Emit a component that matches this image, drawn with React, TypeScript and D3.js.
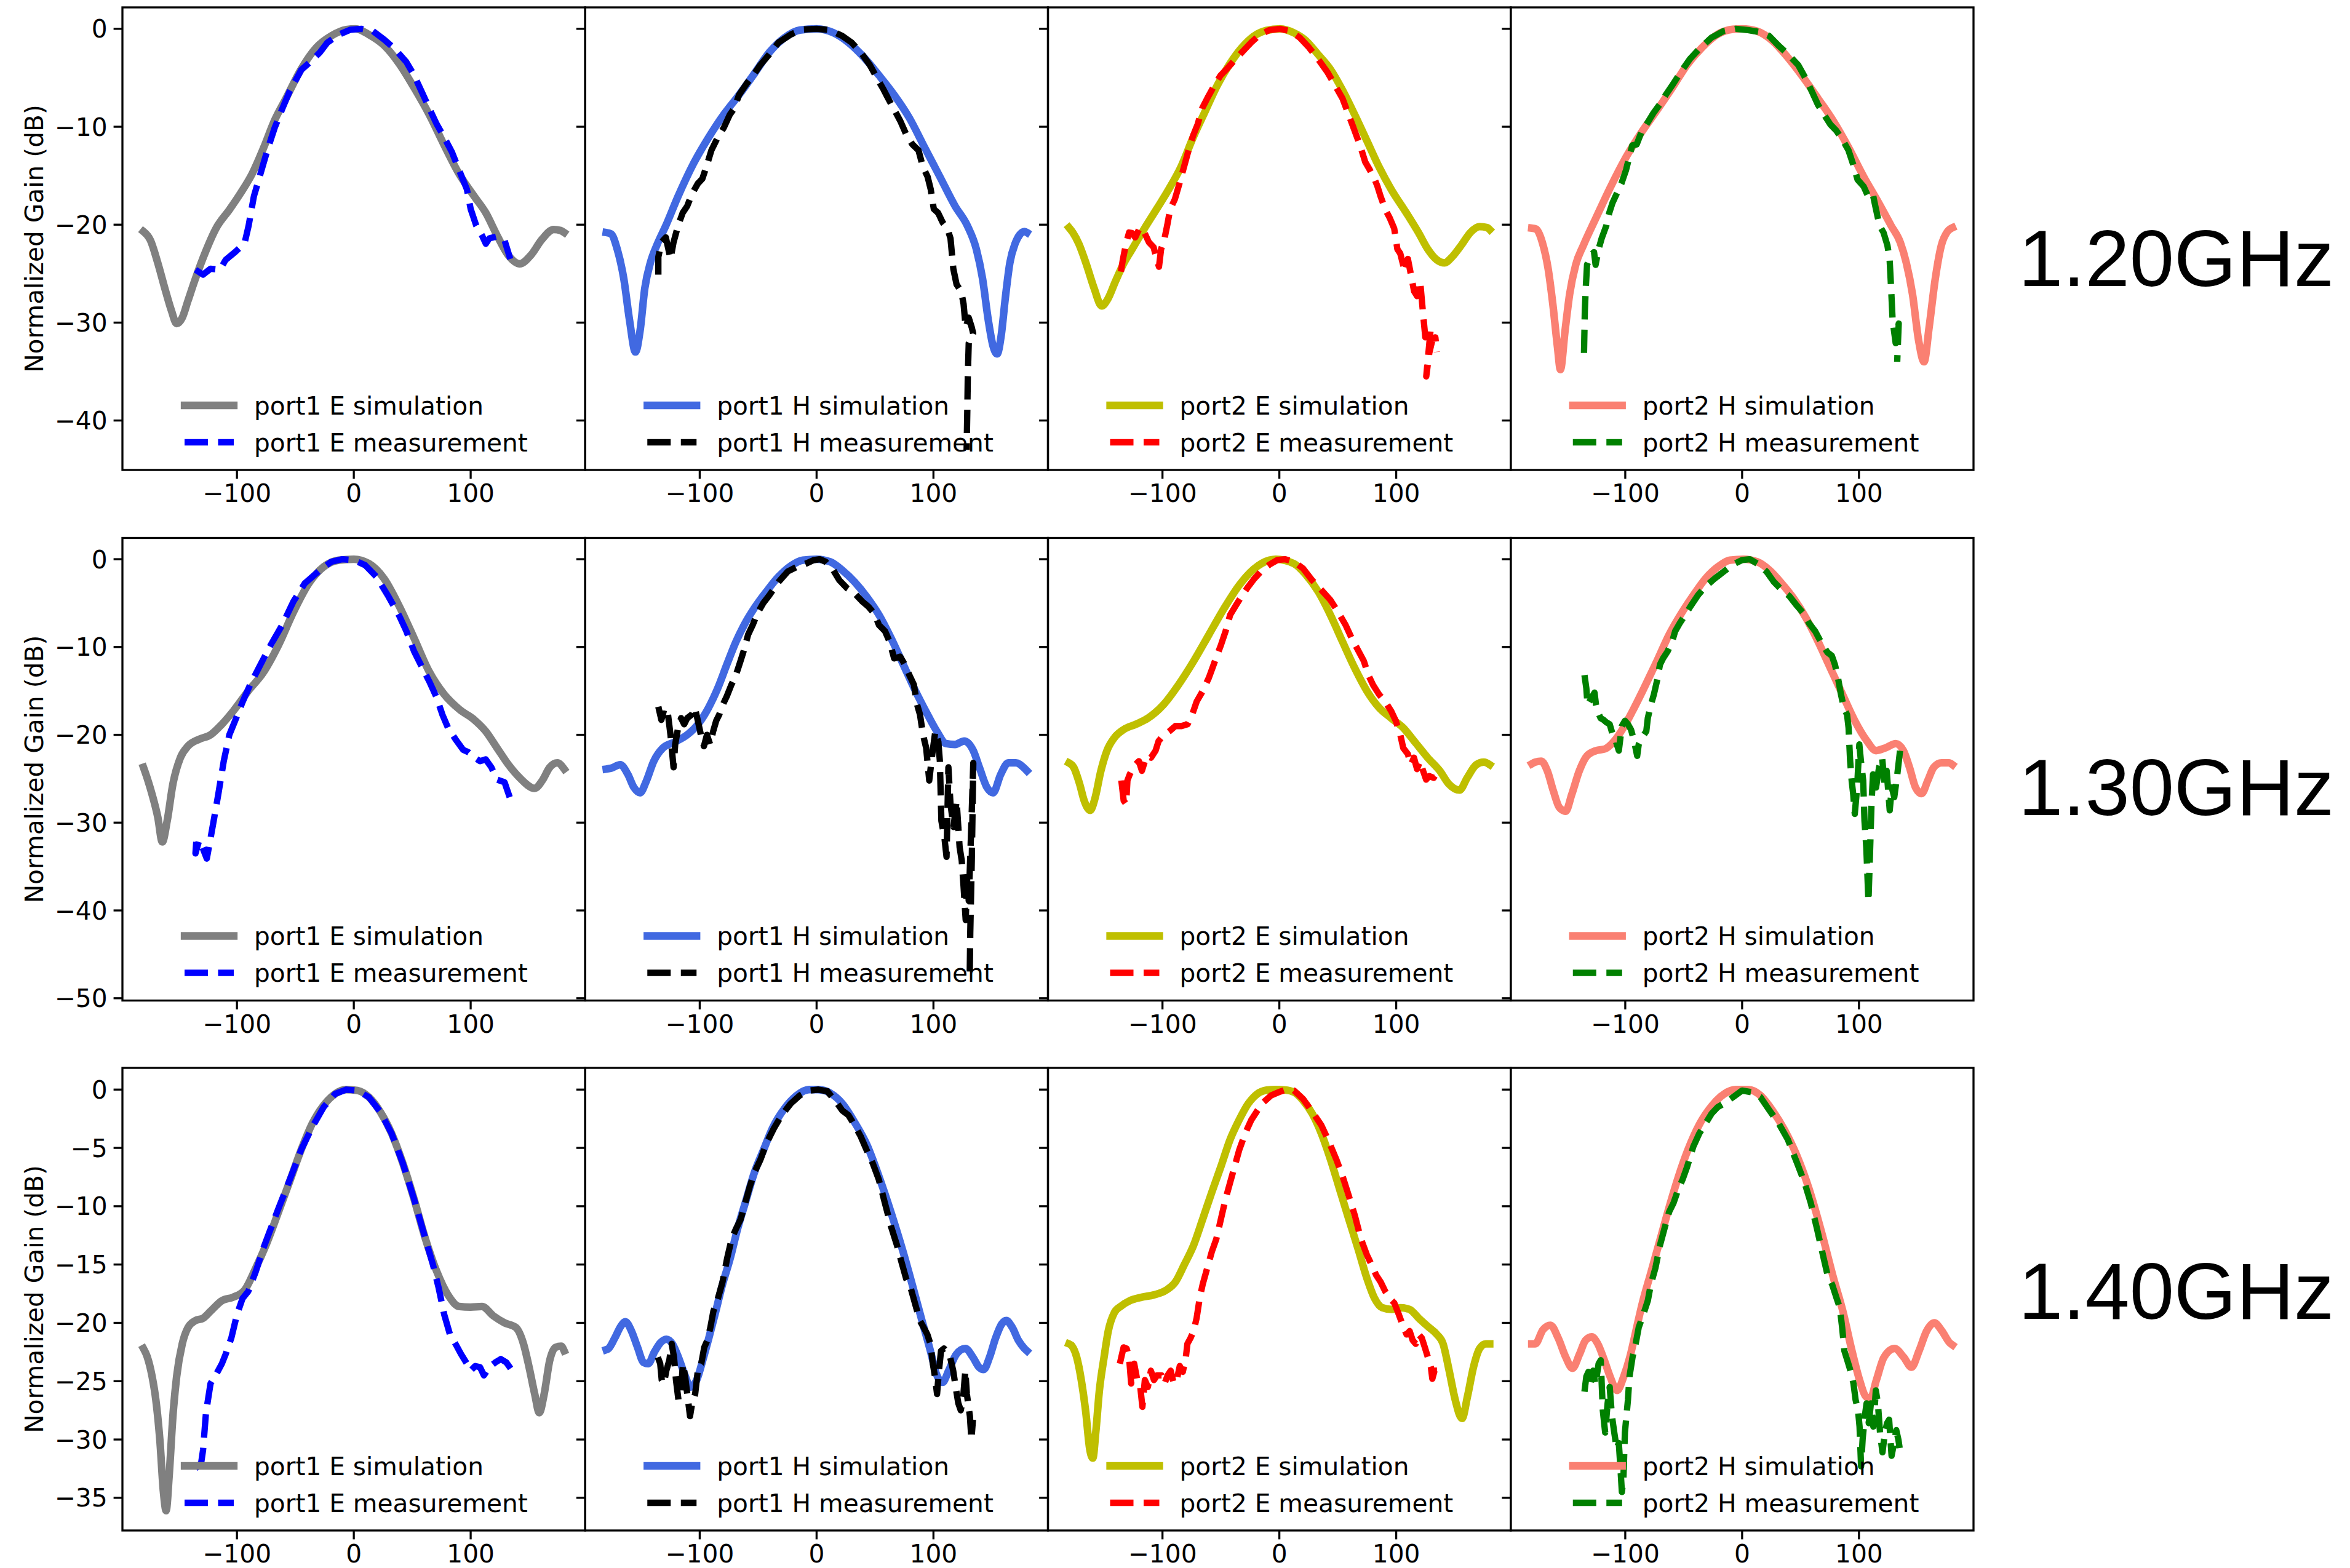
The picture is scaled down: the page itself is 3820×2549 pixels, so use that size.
import React from 'react';
import * as d3 from 'd3';

type Pt = [number, number];

// ---------------- data: 1.20 GHz ----------------
const sim_120_p1E: Pt[] = [[-180,-20.7],[-174,-21.6],[-168,-23.8],[-161,-26.8],[-156,-28.8],[-151.6,-30.1],[-146.8,-29.5],[-142,-27.8],[-135.5,-25.5],[-127,-22.8],[-118,-20.4],[-106,-18.4],[-97,-16.8],[-87,-14.8],[-77,-12.1],[-68,-9.4],[-58,-7.1],[-45,-4.1],[-32,-1.9],[-19,-0.7],[-6.5,-0.07],[1.6,0],[13,-0.6],[26,-1.7],[39,-3.6],[52,-6.1],[64.5,-8.75],[77,-11.8],[90,-14.8],[103,-17.1],[113,-18.8],[122.6,-21.1],[132,-23.1],[142,-24.0],[151.6,-23.1],[161,-21.5],[171,-20.5],[177,-20.6],[180,-20.8]];
const meas_120_p1E: Pt[] = [[-135.5,-24.6],[-129,-25.1],[-122.6,-24.5],[-114.5,-24.6],[-109.7,-23.6],[-101.6,-22.8],[-93.5,-21.9],[-90,-20.1],[-85.5,-17.1],[-80.6,-15.1],[-74,-12.4],[-67.7,-10.1],[-61,-8.1],[-55,-6.4],[-45,-4.2],[-35.5,-3.2],[-29,-2.4],[-22.6,-1.4],[-12.9,-0.6],[-3.2,-0.1],[6.5,0],[16,-0.2],[26,-1.1],[35.5,-2.1],[45,-3.4],[51.6,-4.75],[58,-6.4],[64.5,-8.1],[71,-9.75],[77.4,-11.1],[84,-12.6],[90,-14.4],[96.8,-16.4],[100,-18.4],[104.8,-20.1],[109.7,-21.1],[113,-21.95],[116,-21.4],[122.6,-21.2],[129,-21.6],[133.9,-23.5]];
const sim_120_p1H: Pt[] = [[-180,-20.8],[-175.8,-20.95],[-170.6,-22.5],[-165,-25.5],[-160,-29.8],[-155,-33.0],[-151,-30.8],[-147,-26.5],[-142,-23.8],[-136.7,-22.1],[-129,-20.1],[-118.5,-17.1],[-105.5,-13.8],[-92.4,-11.1],[-79.4,-8.75],[-66.4,-6.75],[-53.4,-4.6],[-40.4,-2.4],[-27.3,-0.9],[-14.3,-0.13],[0,0],[14.3,-0.4],[27.3,-1.4],[40.4,-2.9],[53.4,-4.75],[66.4,-6.75],[79.4,-9.1],[92.4,-12.1],[105.5,-15.1],[118.5,-18.1],[129,-20.1],[136.7,-22.5],[142,-25.5],[147,-29.8],[151,-32.4],[154.5,-33.2],[158,-31.3],[161.5,-27.5],[165.4,-23.9],[170,-21.9],[174,-21.0],[178,-20.7],[180,-20.8]];
const meas_120_p1H: Pt[] = [[-135.4,-25.1],[-135.4,-23.3],[-132.8,-21.8],[-129,-21.3],[-125,-23.5],[-122.4,-21.8],[-118.5,-20.1],[-114.6,-18.8],[-110.7,-18.1],[-106.8,-16.9],[-101.6,-15.8],[-97.7,-15.3],[-93.8,-13.9],[-90,-12.4],[-84.6,-11.1],[-79.4,-10.1],[-74.2,-8.75],[-70.3,-8.1],[-66.4,-6.75],[-59.9,-5.6],[-53.4,-4.6],[-48.2,-3.7],[-40.4,-2.6],[-32.6,-1.4],[-22,-0.57],[-11.7,-0.07],[0,0],[11.7,-0.13],[22,-0.73],[30,-1.4],[37.8,-2.4],[45.6,-3.7],[52,-5.1],[57.3,-6.2],[61.2,-7.1],[66.4,-8.25],[71.6,-9.4],[76.8,-10.8],[82,-11.8],[87.2,-12.4],[91,-14.1],[95,-15.1],[97.7,-16.4],[100.3,-18.4],[104,-18.8],[108,-19.8],[112,-20.4],[114.6,-21.4],[117,-24.5],[119.8,-26.1],[123.7,-26.8],[125.8,-28.1],[127.6,-30.5],[130.2,-29.5],[132.8,-30.5],[134,-31.1],[130.2,-32.1],[129.4,-35.5],[129,-38.8],[128.4,-43.0]];
const sim_120_p2E: Pt[] = [[-180,-20.3],[-176.8,-20.8],[-171.6,-21.95],[-165,-24.1],[-158.5,-26.5],[-152,-28.3],[-146.8,-27.6],[-140.3,-25.8],[-133.8,-24.1],[-126,-22.5],[-115.5,-20.4],[-105,-18.4],[-94.7,-16.4],[-84.2,-14.1],[-73.8,-11.1],[-63.4,-8.4],[-53,-5.75],[-42.5,-3.6],[-32,-1.9],[-21.6,-0.73],[-11.2,-0.17],[0.5,0],[12.3,-0.4],[22.7,-1.2],[33,-2.6],[43.5,-4.1],[54,-6.25],[64.4,-8.75],[74.8,-11.4],[85.3,-14.1],[95.7,-16.4],[108.7,-18.8],[119,-20.8],[127,-22.5],[134.8,-23.6],[141.3,-23.9],[147.8,-23.3],[155.7,-22.1],[163.5,-20.8],[171.3,-20.2],[177.8,-20.3],[180,-20.5]];
const meas_120_p2E: Pt[] = [[-135.6,-24.8],[-133.8,-23.5],[-131.2,-21.95],[-128.6,-20.8],[-126,-20.85],[-123.3,-21.3],[-119.4,-20.3],[-115.5,-20.8],[-111.6,-21.8],[-107.6,-22.3],[-105,-23.5],[-103,-24.3],[-101.2,-22.5],[-98.6,-21.6],[-96,-20.1],[-93.4,-18.4],[-89.4,-17.4],[-85.5,-15.8],[-81.6,-14.1],[-77.7,-12.4],[-73.8,-10.9],[-69.9,-9.75],[-66,-8.1],[-60.8,-6.9],[-55.5,-5.75],[-50.3,-4.75],[-45,-4.1],[-38.6,-3.24],[-32,-2.4],[-24.2,-1.4],[-16.4,-0.57],[-8.6,-0.13],[0.5,0],[9.6,-0.23],[17.5,-0.9],[25.3,-1.9],[33,-3.07],[41,-4.4],[47.5,-5.75],[54,-7.1],[59.2,-8.75],[64.4,-10.4],[69.6,-12.1],[73.5,-13.6],[77.4,-14.4],[81.3,-15.3],[84,-16.1],[86.6,-17.1],[90.5,-18.4],[94.4,-19.3],[98.3,-20.4],[101,-22.5],[103.5,-22.95],[107.4,-24.8],[110,-23.5],[112.6,-25.1],[115.3,-26.8],[117.9,-27.3],[120.5,-25.8],[123,-29.1],[124.9,-31.5],[127,-30.8],[129.6,-30.5],[125.7,-35.5],[128.3,-33.1],[130.9,-31.8],[133.5,-31.5],[134.8,-33.0]];
const sim_120_p2H: Pt[] = [[-180,-20.35],[-176.3,-20.45],[-171,-21.8],[-166,-24.5],[-162,-28.1],[-158,-32.5],[-155.5,-34.8],[-151.5,-30.8],[-147.6,-27.1],[-142.4,-24.1],[-135.8,-22.1],[-125.4,-19.4],[-112.4,-16.1],[-99.3,-13.1],[-86.3,-10.6],[-73.3,-8.4],[-60.2,-6.1],[-47.2,-3.7],[-34.2,-1.9],[-21.1,-0.57],[-8.1,-0.05],[0,0],[12.8,-0.23],[25.8,-1.2],[38.9,-2.9],[51.9,-4.9],[64.9,-7.1],[78,-9.4],[91,-12.1],[104,-15.1],[117,-17.8],[127.5,-20.1],[135.3,-21.8],[140.5,-23.9],[145.8,-27.1],[151,-31.8],[155.7,-34.0],[160,-30.5],[165.3,-25.5],[170.5,-22.1],[175.7,-20.7],[180,-20.3]];
const meas_120_p2H: Pt[] = [[-135.3,-33.1],[-134.6,-28.8],[-133.8,-26.5],[-132.7,-24.1],[-129.3,-23.1],[-126.7,-22.8],[-125.4,-24.1],[-122.8,-22.5],[-120.2,-21.4],[-116.2,-20.1],[-113.7,-18.8],[-111,-17.8],[-107.2,-16.8],[-103.3,-15.8],[-99.3,-14.4],[-96.6,-13.1],[-94,-11.9],[-90.2,-11.8],[-86.3,-10.6],[-81,-9.6],[-75.9,-8.6],[-70.7,-7.75],[-65.4,-6.75],[-58.9,-5.6],[-52.4,-4.4],[-44.6,-3.07],[-36.8,-2.07],[-26.3,-0.9],[-15.9,-0.23],[-5.5,0],[5,-0.13],[15.4,-0.33],[23.2,-0.73],[31,-1.7],[40.2,-2.7],[48,-3.7],[54.5,-5.1],[59.7,-6.4],[64.9,-7.75],[70.1,-8.75],[75.4,-9.75],[80.6,-10.4],[85.8,-11.3],[91,-12.4],[94.9,-13.8],[98.8,-15.4],[104,-16.1],[107.8,-17.1],[111.7,-16.8],[114.5,-18.4],[117.6,-20.1],[121,-20.8],[124.3,-22.1],[126.2,-23.5],[127.5,-26.5],[128.8,-29.8],[131.4,-32.1],[134,-30.1],[132.7,-34.0]];

// ---------------- data: 1.30 GHz ----------------
const sim_130_p1E: Pt[] = [[-180,-23.7],[-177.4,-24.7],[-172.6,-26.8],[-167.7,-29.4],[-163.9,-32.2],[-159.7,-29.8],[-154.8,-25.6],[-148.4,-22.6],[-142,-21.3],[-132.3,-20.5],[-122.6,-20],[-112.9,-18.8],[-103.2,-17.3],[-90.3,-15.0],[-77.4,-12.9],[-64.5,-9.8],[-51.6,-6.0],[-38.7,-2.8],[-25.8,-0.87],[-12.9,-0.11],[0,0],[12.9,-0.5],[25.8,-2.2],[38.7,-5.3],[51.6,-9.0],[64.5,-12.8],[77.4,-15.4],[90.3,-17.1],[103.2,-18.3],[112.9,-19.6],[122.6,-21.5],[132.3,-23.4],[142,-24.9],[154.8,-26.1],[161.3,-25.2],[167.7,-23.7],[174.2,-23.2],[180,-23.9]];
const meas_130_p1E: Pt[] = [[-134.8,-32.2],[-135.5,-33.5],[-132.3,-32.0],[-129,-33.0],[-125.8,-34.1],[-122.6,-31.8],[-119.4,-29.4],[-116,-26.8],[-111.3,-23],[-106.5,-20],[-101.6,-18.4],[-95,-16.2],[-88.7,-14.3],[-80.6,-12.2],[-71,-9.75],[-61.3,-7.5],[-51.6,-4.8],[-42,-2.76],[-29,-1.25],[-19.4,-0.3],[-9.7,0],[0,-0.1],[9.7,-0.68],[19.4,-2.0],[29,-4.1],[38.7,-6.4],[45,-8.2],[51.6,-10.5],[58,-12.2],[64.5,-13.9],[71,-15.8],[75.8,-17.7],[80.6,-19.2],[87,-20.5],[93.5,-21.7],[98.4,-22.0],[103.2,-22.6],[108,-23],[112.9,-22.8],[117.7,-23.7],[122.6,-25.1],[129,-25.4],[133.9,-27.3]];
const sim_130_p1H: Pt[] = [[-180,-23.9],[-175.8,-23.8],[-168,-23.4],[-161.5,-24.5],[-156.3,-26.0],[-151,-26.6],[-145.8,-25.3],[-139.3,-23.0],[-131.5,-21.5],[-121,-20.8],[-110.7,-20],[-100.3,-18.6],[-92.4,-16.9],[-84.6,-14.7],[-76.8,-12.0],[-69,-9.4],[-61.2,-7.3],[-53.4,-5.6],[-43,-3.7],[-32.6,-2.0],[-22,-0.76],[-11.7,-0.11],[0,0],[11.7,-0.3],[22,-1.25],[32.6,-2.6],[43,-4.3],[53.4,-6.35],[63.8,-9.0],[74.2,-12.0],[84.6,-15.0],[95,-17.7],[102.9,-19.6],[110.7,-21.0],[118.5,-21.1],[126.3,-20.7],[134.1,-21.8],[139.3,-23.7],[145.8,-26.0],[151,-26.6],[157.6,-24.5],[164,-23.2],[170.6,-23.2],[177,-23.7],[180,-24.1]];
const meas_130_p1H: Pt[] = [[-135.4,-16.8],[-132.8,-18.3],[-130.2,-17],[-127.6,-17.2],[-125,-20.0],[-122.4,-23.7],[-121,-21.1],[-118.5,-19.2],[-115.9,-18.1],[-113.3,-18.8],[-110.7,-18.1],[-106.8,-17.7],[-104.2,-16.9],[-101.6,-18.4],[-99,-20.0],[-96.4,-21.3],[-93.8,-20.0],[-91.1,-21.1],[-88.5,-19.6],[-85.9,-18.4],[-83.3,-17.7],[-80.7,-16.7],[-76.8,-15.6],[-72.9,-14.3],[-69,-13.2],[-65.1,-11.6],[-62.5,-10.5],[-58.6,-8.6],[-54.7,-7.5],[-50.8,-6.2],[-45.6,-5.0],[-40.4,-4.1],[-32.6,-2.6],[-24.7,-1.4],[-16.9,-0.87],[-9.1,-0.5],[-2.6,-0.11],[2.6,0],[7.8,-0.3],[14.3,-1.25],[19.5,-2.4],[26,-3.3],[32.6,-3.9],[39,-4.8],[44.3,-5.4],[49.5,-6.2],[53.4,-7.5],[58.6,-8.2],[62.5,-9.4],[66.4,-11.3],[71.6,-11.1],[75.5,-12.0],[79.4,-13.2],[83.3,-14.3],[85.9,-16.5],[88.5,-17.7],[91.1,-20.0],[93.8,-21.5],[96.4,-25.2],[99,-22.2],[101.6,-19.6],[104.2,-20.8],[105.5,-23.0],[106.8,-29.8],[109.4,-31.7],[111.2,-33.9],[112.8,-23.7],[114.6,-27.9],[117.2,-30.5],[119.8,-27.5],[122.4,-32.8],[124.2,-34.3],[125.8,-37.3],[127.6,-41.1],[128.9,-36.2],[130.2,-38.9],[131.5,-33.9],[132.8,-28.7],[134.1,-23.2],[132.8,-34.3],[131.5,-42.6],[131,-47.9]];
const sim_130_p2E: Pt[] = [[-180,-23.2],[-176,-23.7],[-170.9,-25.6],[-167,-27.5],[-161.8,-28.6],[-157.9,-27.3],[-152.7,-24.1],[-147.5,-21.8],[-141,-20.3],[-133.2,-19.4],[-122.8,-18.8],[-112.4,-18.1],[-99.4,-16.6],[-86.3,-14.3],[-73.3,-11.6],[-60.3,-8.6],[-47.3,-5.6],[-34.3,-2.95],[-21.3,-1.06],[-8.3,-0.1],[-3,0],[12.5,-0.5],[22.9,-1.8],[33.3,-3.7],[43.7,-6.35],[54.1,-9.4],[64.5,-12.4],[74.9,-15.0],[85.3,-16.9],[95.7,-18.1],[106,-19.2],[116.5,-20.9],[126.9,-22.6],[137.3,-24.1],[145,-25.6],[154.2,-26.3],[160.7,-24.9],[168.5,-23.4],[175,-23.1],[180,-23.4]];
const meas_130_p2E: Pt[] = [[-135.2,-25.2],[-133.2,-27.5],[-131.1,-27.9],[-130,-25.2],[-128,-24.5],[-124.1,-23.5],[-120.2,-23.0],[-117.6,-24.1],[-113.7,-22.4],[-109.8,-22.6],[-105.9,-21.8],[-103.3,-20.7],[-99.4,-20.1],[-94.2,-19.6],[-89,-19.0],[-83.7,-19.0],[-78.5,-18.8],[-74.6,-17.7],[-70.7,-16.2],[-65.5,-15.0],[-60.3,-13.5],[-55.1,-11.6],[-49.9,-9.75],[-46,-8.2],[-42.1,-6.35],[-36.9,-5.2],[-31.7,-4.1],[-26.5,-3.1],[-21.3,-2.2],[-14.8,-1.25],[-8.3,-0.6],[-1.8,-0.1],[4.7,0],[12.5,-0.3],[20.3,-1.06],[28.1,-2.4],[35.9,-3.5],[43.7,-4.65],[50.2,-6.0],[56.7,-7.5],[61.9,-9.0],[67.1,-10.3],[72.3,-11.6],[76.2,-13.2],[80.1,-14.3],[85.3,-15.4],[90.5,-16.2],[95.7,-17.3],[99.6,-18.4],[103.5,-20.0],[106,-21.5],[110,-22.2],[112.6,-23.4],[115.2,-22.6],[117.8,-23.9],[120.4,-23.0],[123,-24.1],[125.6,-25.1],[128.2,-24.7],[132.1,-24.9],[134.7,-24.3]];
const sim_130_p2H: Pt[] = [[-180,-23.3],[-177,-23.1],[-171.9,-23.0],[-166.7,-24.1],[-161.5,-26.4],[-156.3,-28.3],[-151,-28.7],[-145.8,-26.8],[-139.3,-24.1],[-132.8,-22.4],[-125,-21.8],[-117.2,-21.6],[-109.4,-20.7],[-101.6,-19.2],[-93.8,-17.3],[-83.3,-14.5],[-72.9,-11.6],[-62.5,-8.6],[-52.1,-6.2],[-41.7,-4.1],[-31.3,-2.2],[-20.8,-0.87],[-10.4,-0.11],[1.3,0],[13,-0.3],[23.4,-1.25],[33.9,-2.76],[44.3,-4.5],[54.7,-6.7],[65.1,-9.4],[75.5,-12.4],[85.9,-15.4],[96.4,-18.4],[106.8,-20.7],[114.6,-21.8],[122.4,-21.5],[131.5,-21.0],[138,-21.8],[143.2,-23.7],[148.4,-26.0],[153.6,-26.7],[158.9,-25.2],[164,-23.7],[170.6,-23.2],[177,-23.2],[180,-23.4]];
const meas_130_p2H: Pt[] = [[-134.9,-13.2],[-133.3,-14.7],[-132.3,-16.6],[-128.9,-15.8],[-126.3,-15.2],[-125,-16.6],[-123.7,-17.3],[-121.1,-18.1],[-118.5,-18.3],[-115.9,-18.6],[-113.3,-18.8],[-110.7,-20.0],[-108.1,-20.7],[-105.5,-21.8],[-102.9,-19.0],[-100.3,-18.4],[-97.7,-18.8],[-95.1,-19.4],[-92.4,-20.7],[-89.8,-22.4],[-88.5,-21.1],[-84.6,-20.1],[-82,-19.6],[-80.7,-18.1],[-78.1,-16.6],[-75.5,-15.4],[-72.9,-13.9],[-70.3,-12.0],[-67.7,-11.3],[-63.8,-10.5],[-59.9,-9.4],[-57.3,-8.2],[-53.4,-7.3],[-49.5,-6.5],[-44.3,-5.4],[-37.8,-4.1],[-31.3,-3.1],[-23.4,-2.2],[-15.6,-1.4],[-7.8,-0.6],[0,-0.1],[6.5,0],[13,-0.5],[20.8,-1.4],[27.3,-2.6],[33.9,-3.5],[40.4,-4.2],[46.9,-5.3],[52.1,-6.1],[57.3,-7.3],[62.5,-8.2],[67.7,-9.5],[72.9,-10.6],[76.8,-11.0],[79.4,-12.0],[82,-13.5],[84.6,-15.4],[87.2,-17.0],[89.8,-17.7],[91.1,-19.2],[92.4,-22.9],[93.8,-25.3],[95.1,-26.8],[96.4,-29.0],[98.4,-26.0],[100.3,-21.1],[101.6,-22.9],[103.6,-25.2],[104.7,-29.8],[106.3,-32.9],[108.1,-39.0],[109.4,-33.6],[110.7,-27.9],[112,-24.5],[114.6,-26.0],[117.2,-23.7],[119.8,-22.6],[121.9,-25.6],[123.7,-24.1],[126.3,-28.6],[128.1,-26.0],[130.2,-27.1],[132.8,-24.5],[135.4,-21.5]];

// ---------------- data: 1.40 GHz ----------------
const sim_140_p1E: Pt[] = [[-180,-22.2],[-176.8,-22.9],[-172.6,-24.6],[-169.4,-26.6],[-166,-30.0],[-162.9,-34.5],[-160.6,-36.1],[-158,-33.1],[-154.8,-28.0],[-151.6,-24.6],[-146.8,-21.8],[-141.9,-20.4],[-135.5,-19.8],[-129,-19.6],[-122.6,-19.0],[-112.9,-18.1],[-103.2,-17.8],[-93.5,-17.2],[-83.9,-15.3],[-74.2,-13.1],[-64.5,-10.5],[-54.8,-7.85],[-45.2,-5.2],[-35.5,-2.9],[-25.8,-1.35],[-16,-0.37],[-6.5,0],[3.2,-0.08],[12.9,-0.65],[22.6,-1.9],[32.3,-3.75],[41.9,-6.3],[51.6,-9.4],[61.3,-12.8],[71,-15.6],[80.6,-17.6],[90.3,-18.6],[100,-18.65],[109.7,-18.6],[119.4,-19.4],[129,-20.0],[138.7,-20.4],[145.2,-21.8],[150,-23.8],[154.8,-26.1],[158.7,-27.7],[162.9,-26.1],[167.7,-23.2],[172.6,-22.1],[177.4,-22.0],[180,-22.4]];
const meas_140_p1E: Pt[] = [[-135.5,-32.5],[-130.6,-32.0],[-129,-30.9],[-126.5,-27.7],[-122.6,-25.2],[-117.7,-24.4],[-112.9,-23.5],[-109.7,-22.7],[-104.8,-21.3],[-100,-19.3],[-95.2,-17.9],[-90.3,-17.3],[-83.9,-15.6],[-77.4,-13.6],[-71,-11.9],[-64.5,-10.2],[-58,-8.55],[-51.6,-6.9],[-45.2,-5.2],[-35.5,-3.2],[-25.8,-1.5],[-16,-0.37],[-6.5,0],[3.2,-0.08],[12.9,-0.65],[22.6,-1.9],[32.3,-3.75],[41.9,-6.3],[51.6,-9.4],[61.3,-12.8],[67.7,-15.0],[72.6,-17.0],[77.4,-19.3],[82.3,-21.0],[87,-21.8],[91.9,-22.7],[96.8,-23.5],[100,-24.1],[103.9,-23.7],[108,-23.8],[111.3,-24.5],[116,-23.8],[121,-23.4],[125.8,-23.1],[130.6,-23.4],[135.5,-24.1]];
const sim_140_p1H: Pt[] = [[-180,-22.3],[-178,-22.2],[-172.7,-21.3],[-167.6,-20.3],[-163.6,-19.9],[-158.4,-20.7],[-153.2,-22.1],[-148,-23.4],[-144,-23.5],[-138.8,-22.5],[-133.6,-21.7],[-128.5,-21.4],[-123.4,-21.8],[-118.2,-22.95],[-113,-24.4],[-107.8,-25.5],[-102.6,-24.9],[-97.4,-23.2],[-92.2,-21.3],[-87,-19.3],[-80.5,-16.7],[-74,-14.5],[-67.5,-11.9],[-61,-9.7],[-53.2,-7.1],[-45.5,-5.2],[-37.7,-3.3],[-27.3,-1.6],[-16.9,-0.5],[-6.5,0],[1.3,0],[11.7,-0.3],[22,-1.2],[32.5,-2.8],[42.9,-4.7],[53.2,-7.4],[63.6,-10.5],[74,-13.9],[81.8,-16.7],[89.6,-19.6],[97.4,-22.4],[102.6,-24.4],[107.8,-25.1],[113,-24.1],[119.5,-22.7],[127.3,-22.2],[133.8,-22.95],[139,-23.8],[143,-24.0],[148,-22.95],[153.2,-21.3],[158.4,-20.1],[162.3,-19.8],[167.5,-20.4],[172.7,-21.5],[177.9,-22.2],[180,-22.4]];
const meas_140_p1H: Pt[] = [[-135.8,-22.95],[-133.8,-23.5],[-132.5,-24.9],[-130.6,-25.2],[-128.6,-24.1],[-126,-23.2],[-124,-21.8],[-122,-22.95],[-120.3,-24.9],[-118.2,-26.6],[-116.1,-25.8],[-114.3,-23.5],[-112.5,-24.6],[-110.4,-26.3],[-108.3,-28.0],[-106.5,-26.9],[-103.9,-26.1],[-101.3,-23.8],[-98.7,-23.5],[-96.1,-22.1],[-93.5,-21.5],[-90.9,-20.4],[-88.3,-19.0],[-84.4,-17.9],[-80.5,-16.5],[-76.6,-14.5],[-72.7,-12.8],[-68.8,-11.9],[-64.9,-11.1],[-61,-9.7],[-57.1,-8.3],[-53.2,-7.1],[-48,-6.0],[-42.9,-4.6],[-36.4,-3.3],[-29.9,-2.2],[-22.1,-1.2],[-14.3,-0.5],[-6.5,-0.08],[1.3,0],[9.1,-0.14],[16.9,-1.07],[22,-1.8],[27.3,-2.2],[32.5,-3.05],[37.7,-4.0],[42.9,-5.2],[48,-6.3],[53.2,-7.7],[58.4,-9.7],[63.6,-11.7],[68.8,-13.35],[72.7,-14.8],[76.6,-16.2],[80.5,-17.0],[84.4,-18.4],[88.3,-19.8],[92.2,-20.5],[94.8,-21.0],[97.4,-21.8],[99.5,-23.5],[101.3,-24.6],[103.1,-26.1],[104.7,-24.1],[106.5,-22.4],[109,-22.2],[111.7,-22.5],[114.3,-22.95],[116.9,-24.1],[119.5,-25.8],[121.3,-26.9],[123.4,-27.5],[125.5,-26.3],[127.3,-24.1],[128.6,-26.1],[131.2,-28.0],[132.5,-30.0],[133.8,-28.3]];
const sim_140_p2E: Pt[] = [[-180,-21.8],[-177.3,-22.0],[-173.4,-22.95],[-169.5,-24.9],[-165.6,-27.7],[-162.3,-30.8],[-159.6,-31.6],[-157.1,-29.4],[-154,-25.8],[-150,-22.95],[-146.4,-20.7],[-141.1,-19.1],[-136,-18.6],[-128,-18.1],[-117.7,-17.8],[-107.3,-17.6],[-96.9,-17.2],[-89,-16.5],[-81.3,-15.0],[-73.4,-13.35],[-65.6,-11.1],[-57.8,-8.8],[-50,-6.6],[-42.2,-4.3],[-34.4,-2.6],[-26.6,-1.2],[-18.8,-0.37],[-10.9,-0.05],[-3.1,0],[4.7,-0.03],[12.5,-0.22],[20.3,-0.93],[28.1,-2.06],[35.9,-3.75],[43.8,-6.0],[51.6,-8.55],[59.4,-11.1],[67.2,-13.6],[75,-16.2],[81.5,-17.9],[88,-18.7],[95.8,-18.85],[103.6,-18.7],[111.5,-18.85],[119.3,-19.6],[127,-20.3],[134.9,-21.0],[140.1,-21.8],[145.3,-24.1],[150.5,-26.6],[156.3,-28.2],[161,-26.3],[166.1,-23.8],[171.4,-22.2],[176.6,-21.8],[180,-21.8]];
const meas_140_p2E: Pt[] = [[-136.5,-23.5],[-133.3,-22.1],[-130.7,-22.2],[-128.6,-22.95],[-126.8,-25.2],[-124.2,-23.5],[-121.6,-24.9],[-119,-25.5],[-117.2,-27.2],[-115.1,-24.9],[-112.5,-25.5],[-109.9,-24.1],[-107.3,-24.9],[-104.7,-24.5],[-100.8,-24.5],[-98.2,-25.2],[-95.6,-24.5],[-93,-24.1],[-90.4,-25.2],[-87.8,-24.9],[-85.2,-23.7],[-82.6,-24.2],[-80,-22.95],[-78.7,-21.8],[-76,-21.3],[-73.4,-20.7],[-70.8,-19.6],[-68.2,-17.9],[-65.6,-16.7],[-61.7,-15.3],[-57.8,-13.9],[-53.9,-12.8],[-50,-11.1],[-46.1,-9.4],[-42.2,-8.0],[-38.3,-6.6],[-34.4,-5.2],[-29.2,-3.75],[-24,-2.6],[-18.8,-1.8],[-13.5,-1.07],[-7,-0.5],[-0.5,-0.22],[6,0],[12.5,-0.08],[20.3,-0.8],[28.1,-1.9],[35.9,-3.05],[42.4,-4.46],[48.8,-6.0],[54,-7.4],[59.4,-9.1],[64.6,-10.8],[69.8,-12.8],[75,-14.2],[78.9,-15.0],[82.8,-15.9],[86.7,-16.5],[90.6,-17.3],[94.5,-17.9],[98.4,-18.3],[102.3,-19.3],[106.3,-20.4],[108.9,-21.0],[111.5,-20.7],[114.1,-21.5],[116.7,-21.8],[119.3,-21.0],[121.9,-21.3],[124.5,-22.1],[127.1,-22.95],[129.7,-23.8],[130.9,-24.8],[132.8,-24.1],[134.9,-24.1]];
const sim_140_p2H: Pt[] = [[-180,-21.8],[-177,-21.8],[-170.5,-20.6],[-164,-20.2],[-157.4,-21.3],[-150.9,-22.95],[-145.2,-23.9],[-139.2,-22.7],[-134,-21.5],[-128.7,-21.2],[-123.5,-21.8],[-118.3,-23.1],[-113,-24.6],[-107,-25.8],[-101.3,-24.6],[-96.1,-22.95],[-90.9,-20.7],[-85.6,-18.4],[-77.8,-15.6],[-70,-12.8],[-62.2,-10.0],[-54.3,-7.4],[-46.5,-5.2],[-36.1,-2.9],[-25.6,-1.35],[-15.3,-0.37],[-5.2,0],[5.2,0],[15.6,-0.5],[26.1,-1.8],[36.5,-3.5],[47,-5.7],[57.4,-8.55],[67.9,-12.2],[78.3,-16.2],[86.2,-19.0],[94,-22.4],[100.5,-24.9],[105.7,-26.3],[109.7,-26.5],[114.9,-24.9],[121.4,-22.95],[130.5,-22.2],[138.3,-22.95],[144.9,-23.8],[151.4,-22.4],[157.9,-20.7],[164.5,-20.0],[171,-20.7],[177.5,-21.7],[180,-21.9]];
const meas_140_p2H: Pt[] = [[-134.9,-25.9],[-133.3,-24.6],[-131.5,-24.2],[-129.6,-25.2],[-127.5,-24.1],[-125.5,-25.3],[-122.8,-23.5],[-121,-23.2],[-119.2,-27.5],[-117.2,-29.4],[-115.1,-26.9],[-113.3,-25.5],[-111.4,-28.0],[-109.4,-29.4],[-107.3,-30.8],[-105.5,-30.3],[-104.2,-32.3],[-102.9,-34.5],[-101.6,-33.4],[-100.3,-29.4],[-99,-28.0],[-97.7,-26.6],[-96.4,-24.6],[-95.1,-23.8],[-93.8,-22.95],[-91.1,-21.8],[-88.5,-20.4],[-84.6,-19.3],[-80.7,-18.1],[-78.1,-16.7],[-74.2,-15.3],[-70.3,-13.35],[-66.4,-11.9],[-62.5,-10.5],[-58.6,-9.7],[-54.7,-8.55],[-50.9,-7.7],[-47,-6.6],[-41.8,-4.9],[-36.6,-3.75],[-31.3,-2.9],[-26.1,-2.06],[-20.9,-1.5],[-15.7,-1.2],[-7.8,-0.65],[0,-0.08],[7.8,-0.22],[15.7,-0.65],[23.5,-1.8],[31.3,-2.9],[39.2,-4.3],[47,-6.3],[53.5,-8.0],[58.7,-9.7],[64,-11.9],[69.2,-14.2],[73.1,-15.9],[77,-16.7],[80.9,-17.9],[83.6,-18.7],[85.6,-20.4],[87.5,-22.4],[90,-23.2],[92.7,-24.1],[95.3,-25.2],[97.1,-26.6],[99.2,-27.5],[100.5,-28.9],[101.8,-32.3],[103.1,-30.0],[105,-28.0],[106.5,-26.9],[108.4,-28.6],[110.2,-26.9],[112.3,-28.9],[114.4,-25.8],[116.2,-26.9],[118,-29.4],[120.1,-31.1],[122.2,-29.4],[124,-28.6],[125.8,-28.3],[127.9,-31.4],[130,-30.3],[131.9,-29.2],[133.7,-30.0],[135.8,-31.4]];

// ---------------- labels, ticks, styles ----------------
const FREQ_LABELS = ['1.20GHz', '1.30GHz', '1.40GHz'];
const SIM_LABELS = ['port1 E simulation', 'port1 H simulation', 'port2 E simulation', 'port2 H simulation'];
const MEAS_LABELS = ['port1 E measurement', 'port1 H measurement', 'port2 E measurement', 'port2 H measurement'];
const X_TICKS = [-100, 0, 100];
const Y_TICKS = [
  [0, -10, -20, -30, -40],
  [0, -10, -20, -30, -40, -50],
  [0, -5, -10, -15, -20, -25, -30, -35],
];
const SIM_COLORS = ['#808080', '#4169e1', '#bfbf00', '#fa8072'];
const MEAS_COLORS = ['#0000ff', '#000000', '#ff0000', '#008000'];

const SIM_DATA: Pt[][][] = [
  [sim_120_p1E, sim_120_p1H, sim_120_p2E, sim_120_p2H],
  [sim_130_p1E, sim_130_p1H, sim_130_p2E, sim_130_p2H],
  [sim_140_p1E, sim_140_p1H, sim_140_p2E, sim_140_p2H],
];
const MEAS_DATA: Pt[][][] = [
  [meas_120_p1E, meas_120_p1H, meas_120_p2E, meas_120_p2H],
  [meas_130_p1E, meas_130_p1H, meas_130_p2E, meas_130_p2H],
  [meas_140_p1E, meas_140_p1H, meas_140_p2E, meas_140_p2H],
];

const X_DOMAIN: [number, number] = [-198, 198];
const Y_DOMAINS: [number, number][] = [[-45.05, 2.19], [-50.26, 2.42], [-37.8, 1.86]];

const W = 3820, H = 2549;
const LEFT = 199, PW = 752.25, PH = 752;
const TOPS = [12, 874.5, 1736];
const FS = 40.7;
const LW_SIM = 12.3, LW_MEAS = 10.3;
const DASH = '38 16.5';
const SPINE = 3.3, TICK_LEN = 14.4, TICK_W = 3.3;
const FONT = 'DejaVu Sans, sans-serif';

const fmt = (v: number) => (v < 0 ? '\u2212' + Math.abs(v) : String(v));

function Panel({ r, c }: { r: number; c: number }) {
  const x0 = LEFT + c * PW;
  const y0 = TOPS[r];
  const x = d3.scaleLinear().domain(X_DOMAIN).range([x0, x0 + PW]);
  const y = d3.scaleLinear().domain(Y_DOMAINS[r]).range([y0 + PH, y0]);
  const simGen = d3.line<Pt>().x(d => x(d[0])).y(d => y(d[1])).curve(d3.curveMonotoneX);
  const measGen = d3.line<Pt>().x(d => x(d[0])).y(d => y(d[1]));
  const clipId = `clip-${r}-${c}`;
  const legY = [y0 + PH - 105, y0 + PH - 45];
  const hx1 = x0 + 101, hx2 = x0 + 181, tx = x0 + 214;
  return (
    <g>
      <defs>
        <clipPath id={clipId}>
          <rect x={x0} y={y0} width={PW} height={PH} />
        </clipPath>
      </defs>
      <g clipPath={`url(#${clipId})`}>
        <path d={simGen(SIM_DATA[r][c]) || ''} fill="none" stroke={SIM_COLORS[c]} strokeWidth={LW_SIM}
          strokeLinecap="square" strokeLinejoin="round" />
        <path d={measGen(MEAS_DATA[r][c]) || ''} fill="none" stroke={MEAS_COLORS[c]} strokeWidth={LW_MEAS}
          strokeDasharray={DASH} strokeLinecap="butt" strokeLinejoin="round" />
      </g>
      {Y_TICKS[r].map(t => (
        <line key={'yt' + t} x1={x0} x2={x0 - TICK_LEN} y1={y(t)} y2={y(t)} stroke="#000" strokeWidth={TICK_W} />
      ))}
      {c === 0 && Y_TICKS[r].map(t => (
        <text key={'yl' + t} x={x0 - TICK_LEN - 10} y={y(t) + 14.5} textAnchor="end" fontSize={FS} fontFamily={FONT}>{fmt(t)}</text>
      ))}
      {X_TICKS.map(t => (
        <line key={'xt' + t} x1={x(t)} x2={x(t)} y1={y0 + PH} y2={y0 + PH + TICK_LEN} stroke="#000" strokeWidth={TICK_W} />
      ))}
      {X_TICKS.map(t => (
        <text key={'xl' + t} x={x(t)} y={y0 + PH + 52} textAnchor="middle" fontSize={FS} fontFamily={FONT}>{fmt(t)}</text>
      ))}
      <rect x={x0} y={y0} width={PW} height={PH} fill="none" stroke="#000" strokeWidth={SPINE} />
      {c === 0 && (
        <text transform={`translate(70, ${y0 + PH / 2}) rotate(-90)`} textAnchor="middle" fontSize={FS} fontFamily={FONT}>
          Normalized Gain (dB)
        </text>
      )}
      <line x1={hx1} x2={hx2} y1={legY[0]} y2={legY[0]} stroke={SIM_COLORS[c]} strokeWidth={LW_SIM} strokeLinecap="square" />
      <text x={tx} y={legY[0] + 14.5} fontSize={FS} fontFamily={FONT}>{SIM_LABELS[c]}</text>
      <line x1={hx1} x2={hx2} y1={legY[1]} y2={legY[1]} stroke={MEAS_COLORS[c]} strokeWidth={LW_MEAS} strokeDasharray={DASH} />
      <text x={tx} y={legY[1] + 14.5} fontSize={FS} fontFamily={FONT}>{MEAS_LABELS[c]}</text>
    </g>
  );
}

export default function App() {
  const rows = [0, 1, 2];
  const cols = [0, 1, 2, 3];
  const freqBase = [465, 1325, 2144];
  return (
    <svg width={W} height={H} viewBox={`0 0 ${W} ${H}`} style={{ position: 'absolute', left: 0, top: 0, background: '#fff' }}>
      <rect x={0} y={0} width={W} height={H} fill="#fff" />
      {rows.map(r => cols.map(c => <Panel key={`${r}-${c}`} r={r} c={c} />))}
      {rows.map(r => (
        <text key={'f' + r} x={3281} y={freqBase[r]} fontSize={130} fontFamily="Liberation Sans, Arial, sans-serif">{FREQ_LABELS[r]}</text>
      ))}
    </svg>
  );
}
